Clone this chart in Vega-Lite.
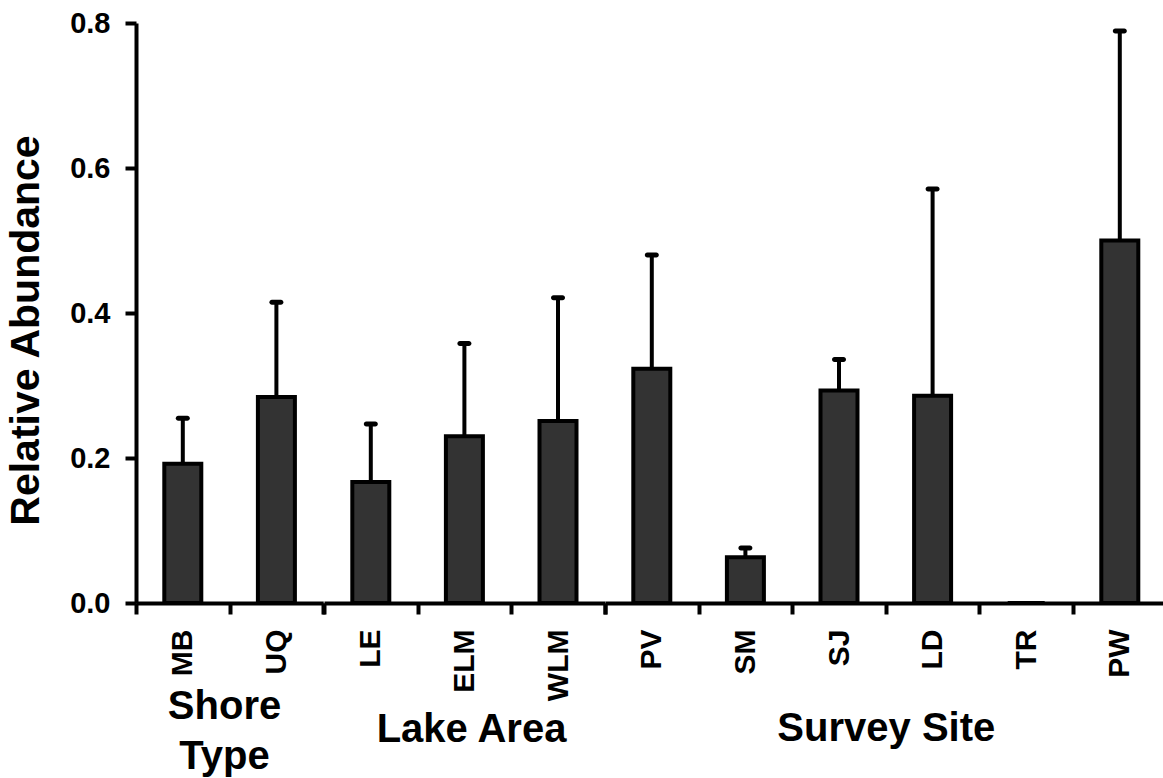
{
  "$schema": "https://vega.github.io/schema/vega-lite/v6.json",
  "padding": {"left": 5, "top": 9, "right": 0, "bottom": 0},
  "spacing": 0,
  "bounds": "flush",
  "data": {
    "values": [
      {"site": "MB", "group": "Shore Type", "value": 0.192, "upper": 0.255},
      {"site": "UQ", "group": "Shore Type", "value": 0.284, "upper": 0.415},
      {"site": "LE", "group": "Lake Area", "value": 0.167, "upper": 0.247},
      {"site": "ELM", "group": "Lake Area", "value": 0.230, "upper": 0.358},
      {"site": "WLM", "group": "Lake Area", "value": 0.251, "upper": 0.421},
      {"site": "PV", "group": "Survey Site", "value": 0.323, "upper": 0.480},
      {"site": "SM", "group": "Survey Site", "value": 0.063, "upper": 0.076},
      {"site": "SJ", "group": "Survey Site", "value": 0.293, "upper": 0.336},
      {"site": "LD", "group": "Survey Site", "value": 0.286, "upper": 0.571},
      {"site": "TR", "group": "Survey Site", "value": 0, "upper": null},
      {"site": "PW", "group": "Survey Site", "value": 0.500, "upper": 0.789}
    ]
  },
  "config": {
    "view": {"stroke": null},
    "font": "Liberation Sans",
    "axis": {
      "domainColor": "black", "domainWidth": 4, "tickColor": "black", "tickWidth": 4, "tickSize": 11,
      "labelFont": "Liberation Sans", "labelFontWeight": "bold", "labelColor": "black",
      "titleFont": "Liberation Sans", "titleFontWeight": "bold", "titleColor": "black", "grid": false
    },
    "axisX": {"labelAngle": -90, "labelFontSize": 30, "labelPadding": 15, "tickBand": "extent", "titleFontSize": 40, "titleLineHeight": 50},
    "axisY": {"labelFontSize": 29, "labelPadding": 15, "titleFontSize": 41, "titlePadding": 22}
  },
  "hconcat": [
    {
      "width": 187.2, "height": 580,
      "transform": [{"filter": {"field": "group", "equal": "Shore Type"}}],
      "encoding": {"x": {"field": "site", "type": "nominal", "sort": null, "scale": {"paddingInner": 0, "paddingOuter": 0}, "axis": {"title": ["Shore", "Type"], "titlePadding": 10.5, "titleX": 88}}},
      "layer": [
        {"mark": {"type": "bar", "size": 37, "fill": "#333333", "stroke": "black", "strokeWidth": 4},
         "encoding": {"y": {"field": "value", "type": "quantitative", "scale": {"domain": [0, 0.8]}, "title": "Relative Abundance", "axis": {"values": [0, 0.2, 0.4, 0.6, 0.8], "format": ".1f", "titleY": 307}}}},
        {"mark": {"type": "rule", "strokeWidth": 4, "color": "black"},
         "encoding": {"y": {"field": "value", "type": "quantitative", "title": "Relative Abundance"}, "y2": {"field": "upper"}}},
        {"mark": {"type": "tick", "size": 14, "thickness": 5, "cornerRadius": 2.5, "color": "black", "opacity": 1},
         "encoding": {"y": {"field": "upper", "type": "quantitative", "title": "Relative Abundance"}}}
      ]
    },
    {
      "width": 280.8, "height": 580,
      "transform": [{"filter": {"field": "group", "equal": "Lake Area"}}],
      "encoding": {"x": {"field": "site", "type": "nominal", "sort": null, "scale": {"paddingInner": 0, "paddingOuter": 0}, "axis": {"title": "Lake Area", "titlePadding": 8.5, "titleX": 147}}},
      "layer": [
        {"mark": {"type": "bar", "size": 37, "fill": "#333333", "stroke": "black", "strokeWidth": 4},
         "encoding": {"y": {"field": "value", "type": "quantitative", "scale": {"domain": [0, 0.8]}, "axis": null}}},
        {"mark": {"type": "rule", "strokeWidth": 4, "color": "black"},
         "encoding": {"y": {"field": "value", "type": "quantitative", "axis": null}, "y2": {"field": "upper"}}},
        {"mark": {"type": "tick", "size": 14, "thickness": 5, "cornerRadius": 2.5, "color": "black", "opacity": 1},
         "encoding": {"y": {"field": "upper", "type": "quantitative", "axis": null}}}
      ]
    },
    {
      "width": 561.6, "height": 580,
      "transform": [{"filter": {"field": "group", "equal": "Survey Site"}}],
      "encoding": {"x": {"field": "site", "type": "nominal", "sort": null, "scale": {"paddingInner": 0, "paddingOuter": 0}, "axis": {"title": "Survey Site", "titlePadding": 31.5}}},
      "layer": [
        {"mark": {"type": "bar", "size": 37, "fill": "#333333", "stroke": "black", "strokeWidth": 4},
         "encoding": {"y": {"field": "value", "type": "quantitative", "scale": {"domain": [0, 0.8]}, "axis": null}}},
        {"mark": {"type": "rule", "strokeWidth": 4, "color": "black"},
         "encoding": {"y": {"field": "value", "type": "quantitative", "axis": null}, "y2": {"field": "upper"}}},
        {"mark": {"type": "tick", "size": 14, "thickness": 5, "cornerRadius": 2.5, "color": "black", "opacity": 1},
         "encoding": {"y": {"field": "upper", "type": "quantitative", "axis": null}}}
      ]
    }
  ]
}
